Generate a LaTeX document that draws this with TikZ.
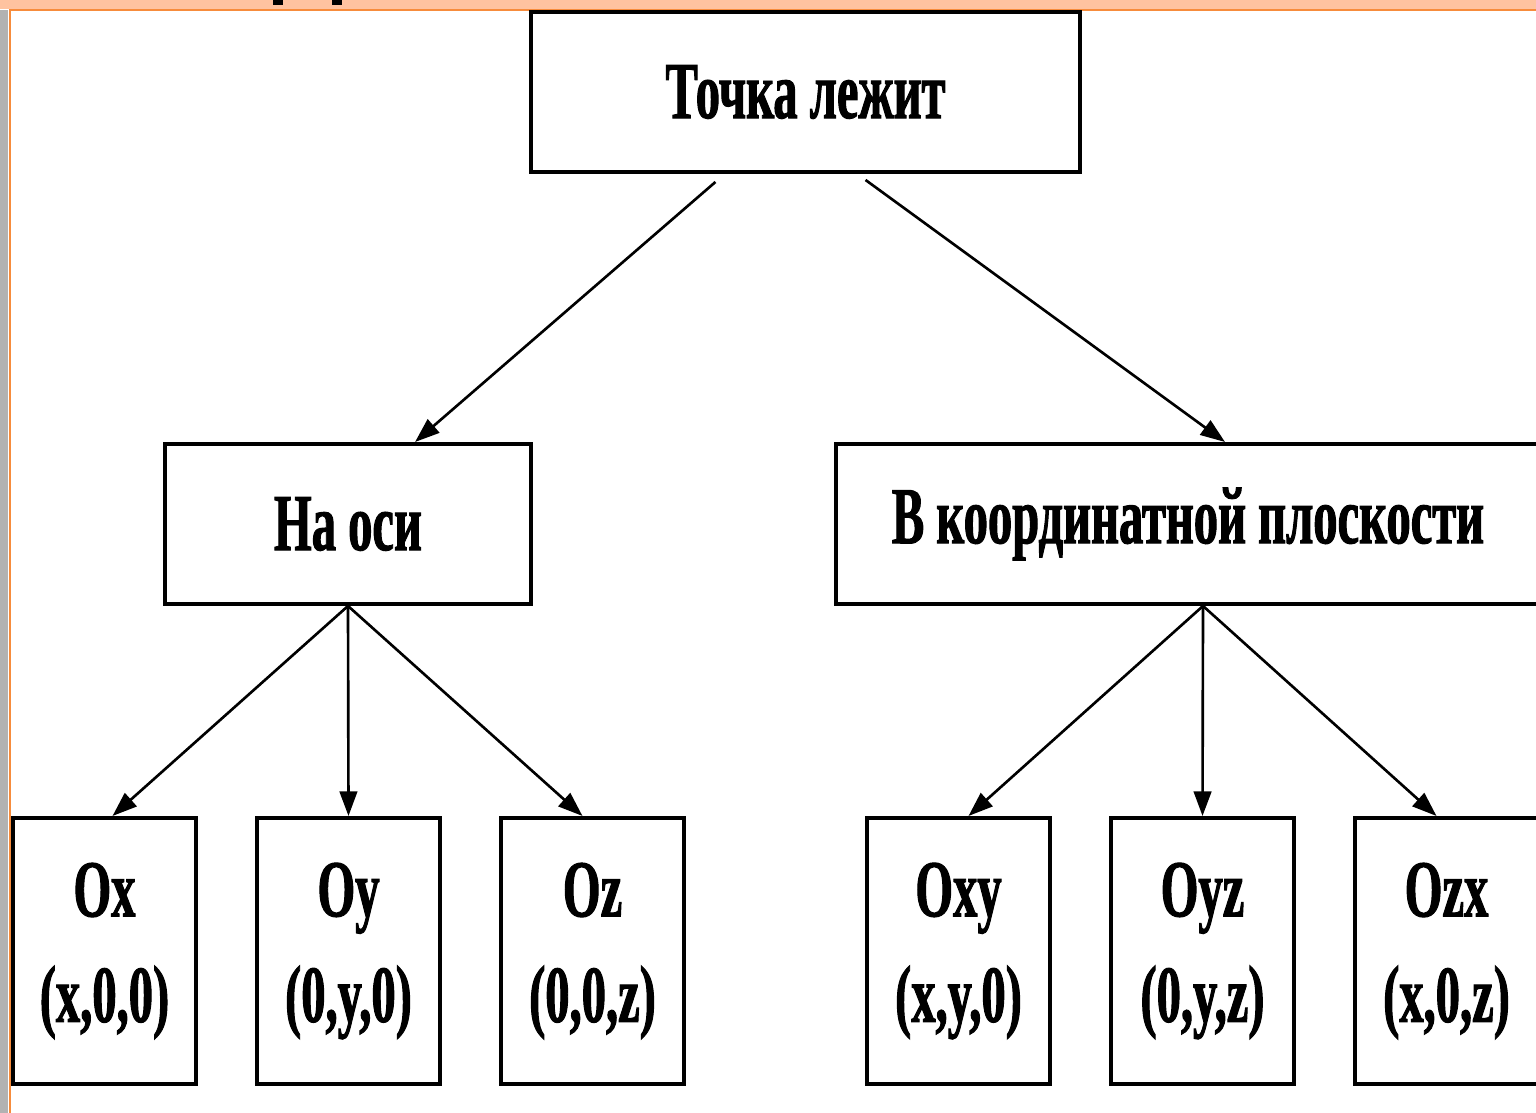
\documentclass[tikz,border=0pt]{standalone}
\usepackage{fontspec}
\setmainfont{Liberation Serif}
\newfontfamily\schemefont[FakeStretch=0.6,FakeBold=1.2]{Liberation Serif}
\usetikzlibrary{arrows.meta}
\definecolor{slideband}{RGB}{255,195,160}
\definecolor{slideline}{RGB}{247,140,60}
\begin{document}
\begin{tikzpicture}[x=0.01cm,y=-0.01cm,
    box/.style={draw,line width=1.1pt,inner sep=0pt,align=center,
      font=\schemefont\bfseries\fontsize{23}{30}\selectfont},
    leaf/.style={box,minimum width=1.83cm,minimum height=2.66cm},
    arr/.style={line width=0.75pt,-{Triangle[length=7pt,width=5pt]}}]
  \useasboundingbox (0,0) rectangle (1536,1113);
  % slide frame
  \fill[white] (0,0) rectangle (1536,1113);
  \fill[gray!60] (0,10) rectangle (8,1113);
  \fill[slideband] (0,0) rectangle (1536,9);
  \draw[slideline,line width=0.7pt] (10,1113) -- (10,10) -- (1536,10);
  \fill (273,0) rectangle (283,5);
  \fill (332,0) rectangle (342,5);
  % boxes
  \node[box,minimum width=5.49cm,minimum height=1.6cm] (point) at (805.5,92) {Точка лежит};
  \node[box,minimum width=3.66cm,minimum height=1.6cm] (axis) at (348,524) {На оси};
  \node[box,minimum width=7.04cm,minimum height=1.6cm] (plane) at (1188,524) {В координатной плоскости};
  \node[leaf] (ox) at (104.5,951) {Ox\\(x,0,0)};
  \node[leaf] (oy) at (348.5,951) {Oy\\(0,y,0)};
  \node[leaf] (oz) at (592.5,951) {Oz\\(0,0,z)};
  \node[leaf] (oxy) at (958.5,951) {Oxy\\(x,y,0)};
  \node[leaf] (oyz) at (1202.5,951) {Oyz\\(0,y,z)};
  \node[leaf] (ozx) at (1446.5,951) {Ozx\\(x,0,z)};
  % arrows
  \draw[arr] ([xshift=-0.9cm,yshift=-0.08cm]point.south) -- ([xshift=0.67cm]axis.north);
  \draw[arr] ([xshift=0.6cm,yshift=-0.06cm]point.south) -- ([xshift=0.37cm]plane.north);
  \draw[arr] (axis.south) -- ([xshift=0.08cm]ox.north);
  \draw[arr] (axis.south) -- (oy.north);
  \draw[arr] (axis.south) -- ([xshift=-0.1cm]oz.north);
  \draw[arr] ([xshift=0.15cm]plane.south) -- ([xshift=0.1cm]oxy.north);
  \draw[arr] ([xshift=0.15cm]plane.south) -- (oyz.north);
  \draw[arr] ([xshift=0.15cm]plane.south) -- ([xshift=-0.1cm]ozx.north);
\end{tikzpicture}
\end{document}
